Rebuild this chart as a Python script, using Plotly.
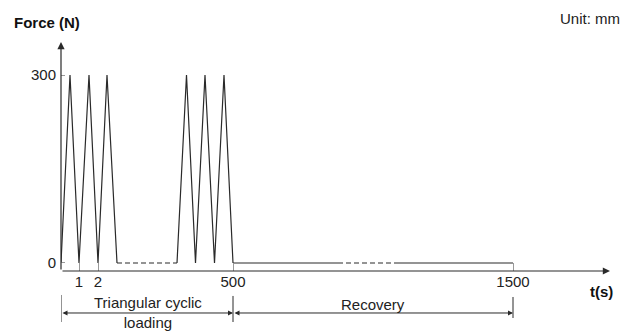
import plotly.graph_objects as go

# Schematic time positions (non-linear time axis, schematic units) and force values (N)
group1_t = [0, 9, 18, 28, 37, 46, 56]
group1_f = [0, 300, 0, 300, 0, 300, 0]
gap1_t = [56, 116]
gap1_f = [0, 0]
group2_t = [116, 125.5, 134.5, 144, 153.5, 163, 172]
group2_f = [0, 300, 0, 300, 0, 300, 0]
rec1_t = [172, 277]
rec1_f = [0, 0]
rec_gap_t = [277, 337]
rec_gap_f = [0, 0]
rec2_t = [337, 452]
rec2_f = [0, 0]

x_tickvals = [18, 37, 172, 452]
x_ticktext = ["1", "2", "500", "1500"]
y_tickvals = [0, 300]
y_ticktext = ["0", "300"]

phase_bounds = [0, 172, 452]
phase_labels = ["Triangular cyclic<br>loading", "Recovery"]

LC = "#2a2a2a"
FONT = "Liberation Sans, Arial, sans-serif"
FS = 15

fig = go.Figure()
solid = dict(color=LC, width=1.2)
dashed = dict(color=LC, width=1.2, dash="5px,3px")
for t, f, ln in [(group1_t, group1_f, solid), (gap1_t, gap1_f, dashed),
                 (group2_t, group2_f, solid), (rec1_t, rec1_f, solid),
                 (rec_gap_t, rec_gap_f, dashed), (rec2_t, rec2_f, solid)]:
    fig.add_trace(go.Scatter(x=t, y=f, mode="lines", line=ln, showlegend=False,
                             hoverinfo="skip", cliponaxis=False))

fig.update_layout(
    width=621, height=323,
    margin=dict(l=53, r=19, t=34, b=60, pad=0),
    paper_bgcolor="white", plot_bgcolor="white",
    font=dict(family=FONT, size=FS, color="#222"),
    xaxis=dict(range=[0, 549], showgrid=False, zeroline=False, showline=False,
               tickvals=x_tickvals, ticktext=x_ticktext, ticks="inside",
               ticklen=8, tickcolor="#999", tickwidth=1),
    yaxis=dict(range=[-12.8, 352.7], showgrid=False, zeroline=False, showline=False,
               tickvals=y_tickvals, ticktext=y_ticktext, ticks="inside",
               ticklen=4, tickcolor="#999", tickwidth=1, ticklabelstandoff=4),
)

ann = []
# axes arrows
ann.append(dict(xref="paper", yref="paper", x=1, y=0, axref="pixel", ayref="pixel",
                ax=-549, ay=0, showarrow=True, arrowhead=2, arrowsize=1.2,
                arrowwidth=1.2, arrowcolor=LC, text=""))
ann.append(dict(xref="paper", yref="paper", x=0, y=1, axref="pixel", ayref="pixel",
                ax=0, ay=229, showarrow=True, arrowhead=2, arrowsize=1.2,
                arrowwidth=1.2, arrowcolor=LC, text=""))
# phase double arrows
for a, b in zip(phase_bounds[:-1], phase_bounds[1:]):
    ann.append(dict(xref="x", yref="paper", x=b, y=-0.1834, axref="x", ayref="pixel",
                    ax=a, ay=0, showarrow=True, arrowhead=2, arrowside="end+start",
                    arrowsize=1, arrowwidth=1, arrowcolor=LC, text=""))
ann.append(dict(xref="x", yref="paper", x=87, y=-0.18, text=phase_labels[0],
                showarrow=False, xanchor="center", yanchor="middle",
                font=dict(size=FS, color="#222")))
ann.append(dict(xref="x", yref="paper", x=312, y=-0.145, text=phase_labels[1],
                showarrow=False, xanchor="center", yanchor="middle",
                font=dict(size=FS, color="#222")))
ann.append(dict(xref="paper", yref="paper", x=0.985, y=-0.09, text="<b>t(s)</b>",
                showarrow=False, xanchor="center", yanchor="middle",
                font=dict(size=FS, color="#111")))
ann.append(dict(xref="paper", yref="paper", x=-0.0255, y=1.087, text="<b>Force (N)</b>",
                showarrow=False, xanchor="center", yanchor="middle",
                font=dict(size=FS, color="#111")))
ann.append(dict(xref="paper", yref="paper", x=1.022, y=1.148, xanchor="right",
                yanchor="top", text="Unit: mm", showarrow=False,
                font=dict(size=FS, color="#222")))
fig.update_layout(annotations=ann)

shapes = []
for xb, y0, y1 in [(0, -0.1048, -0.2227), (172, -0.109, -0.2227), (452, -0.1135, -0.2052)]:
    shapes.append(dict(type="line", xref="x", yref="paper", x0=xb, x1=xb, y0=y0, y1=y1,
                       line=dict(color=LC, width=1)))
fig.update_layout(shapes=shapes)

fig.write_html("out.html")
